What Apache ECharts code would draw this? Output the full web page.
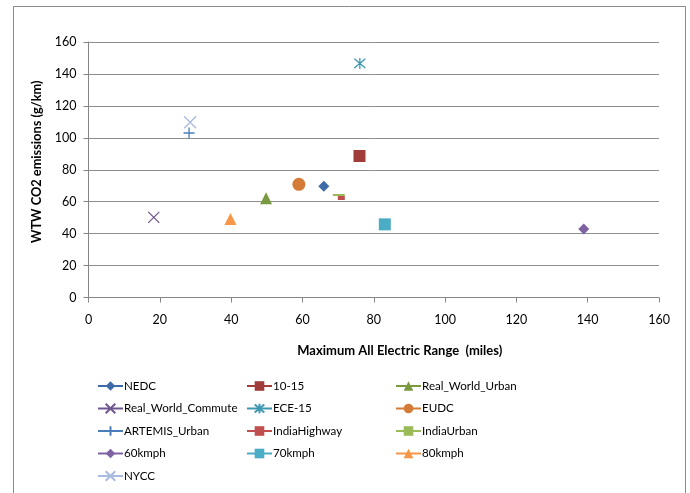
<!DOCTYPE html>
<html><head><meta charset="utf-8">
<script src="https://cdn.jsdelivr.net/npm/echarts@6/dist/echarts.min.js"></script>
<style>html,body{margin:0;padding:0;background:#fff}#c{width:690px;height:493px}</style>
</head><body><div id="c"></div>
<script>
// Series names, in legend order (3 columns)
const seriesNames = ['NEDC','10-15','Real_World_Urban','Real_World_Commute','ECE-15','EUDC',
  'ARTEMIS_Urban','IndiaHighway','IndiaUrban','60kmph','70kmph','80kmph','NYCC'];
// Maximum All Electric Range (miles)
const rangeMiles = [66, 76, 49.8, 18.3, 76.1, 59, 28.2, 70.9, 70.2, 138.9, 83.1, 39.8, 28.5];
// WTW CO2 emissions (g/km)
const co2 = [69.6, 88.6, 62.1, 50.2, 146.6, 70.9, 103, 62.3, 64.2, 42.9, 45.8, 49.2, 109.7];
const xTicks = [0,20,40,60,80,100,120,140,160];
const yTicks = [0,20,40,60,80,100,120,140,160];

const colors = ['#3E6BA7','#A03C3A','#799A3F','#6E5590','#3E98B0','#D47B37',
  '#4A7EBB','#C0504D','#9BBB59','#7F62A3','#4BACC6','#F79646','#A7BADF'];
const X = 'path://M0 0L10 10M10 0L0 10';
const PLUS = 'path://M5 0L5 10M0 5L10 5';
const STAR = 'path://M0 0L10 10M10 0L0 10M5 -1L5 11';
const symbols = ['diamond','rect','triangle',X,STAR,'circle',PLUS,'rect','rect','diamond','rect','triangle',X];
const sizes = [11,12,12,11,11,13,11,[7,4],[12,2],11,12,12,12];
const stroked = [false,false,false,true,true,false,true,false,false,false,false,false,true];

const series = seriesNames.map((n,i)=>({
  name:n, type:'line', data:[[rangeMiles[i], co2[i]]],
  symbol:symbols[i], symbolSize:sizes[i], showSymbol:true,
  lineStyle:{color:colors[i], width:2.5},
  itemStyle: stroked[i] ? {color:'rgba(0,0,0,0)', borderColor:colors[i], borderWidth:1.3}
                        : {color:colors[i], borderWidth:0},
  emphasis:{disabled:true}, animation:false, z:3
}));

const font = 'Lato, "Open Sans", sans-serif';
const cols = [[0,3,6,9,12],[1,4,7,10],[2,5,8,11]];
const colLeft = [97, 246, 395];
const legends = cols.map((c,k)=>({
  orient:'vertical', left:colLeft[k], top:379,
  data:c.map(i=>seriesNames[i]), itemWidth:25, itemHeight:12, itemGap:8.5,
  textStyle:{fontFamily:font, fontSize:11.6, color:'#000', lineHeight:14, padding:[0,0,0,-4]},
  selectedMode:false, padding:0
}));

const chart = echarts.init(document.getElementById('c'), null, {renderer:'canvas'});
chart.setOption({
  animation:false,
  color:colors,
  textStyle:{fontFamily:font},
  graphic:[{type:'rect', shape:{x:13.5,y:6.5,width:672,height:500},
    style:{fill:'none', stroke:'#8a8a8a', lineWidth:1}, silent:true}],
  grid:{left:88.5, top:42, right:31, bottom:195.5, containLabel:false},
  xAxis:{type:'value', min:xTicks[0], max:xTicks[xTicks.length-1], interval:20,
    name:'Maximum All Electric Range  (miles)', nameLocation:'middle', nameGap:47,
    nameTextStyle:{fontFamily:font, fontWeight:'bold', fontSize:13, color:'#000', padding:[0,0,0,52]},
    axisLine:{show:true, lineStyle:{color:'#868686', width:1}},
    axisTick:{show:true, length:5, lineStyle:{color:'#868686'}},
    axisLabel:{fontFamily:font, fontSize:12.5, color:'#000', margin:16},
    splitLine:{show:false}},
  yAxis:{type:'value', min:yTicks[0], max:yTicks[yTicks.length-1], interval:20,
    name:'WTW CO2 emissions (g/km)', nameLocation:'middle', nameGap:43, nameRotate:90,
    nameTextStyle:{fontFamily:font, fontWeight:'bold', fontSize:12.8, color:'#000', padding:[0,0,0,16]},
    axisLine:{show:true, lineStyle:{color:'#868686', width:1}},
    axisTick:{show:true, length:5, lineStyle:{color:'#868686'}},
    axisLabel:{fontFamily:font, fontSize:12.5, color:'#000', margin:12},
    splitLine:{show:true, lineStyle:{color:'#8e8e8e', width:1}}},
  legend:legends,
  series:series
});
</script></body></html>
